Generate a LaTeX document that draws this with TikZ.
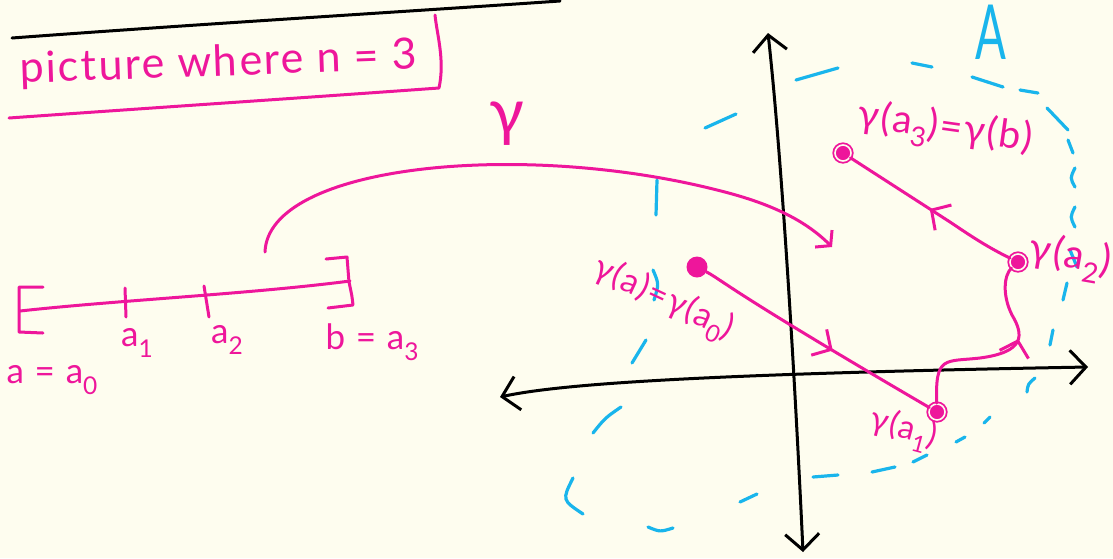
\documentclass[tikz,border=0pt]{standalone}
\usepackage{fontspec}
\setmainfont{Lato}[LetterSpace=5]
\usetikzlibrary{
    arrows.meta,
    decorations.markings
}
\definecolor{paper}{RGB}{254,253,239}
\definecolor{ink}{RGB}{238,22,155}
\definecolor{sky}{RGB}{25,181,236}
\newcommand\subsc[1]{\raisebox{-0.3em}{\scalebox{0.7}{#1}}}
\tikzset{
    % --- Pink pen stroke ---
    pen/.style = {
        draw=ink, line width=3pt,
        line cap=round, line join=round
    },
    % --- Black coordinate axis, barbs at both ends ---
    axis/.style = {
        draw=black, line width=3pt, line cap=round,
        {Straight Barb[length=16pt,width=34pt]}-{Straight Barb[length=16pt,width=34pt]}
    },
    % --- One dash of the region boundary ---
    region dash/.style = {
        draw=sky, line width=3.2pt, line cap=round
    },
    % --- Start point (solid blob) ---
    filled pt/.style = {
        circle, fill=ink,
        minimum size=21pt, inner sep=0pt
    },
    % --- Other points (ringed dot) ---
    ring pt/.style = {
        circle, draw=ink, line width=1.8pt,
        double=paper, double distance=1.6pt, fill=ink,
        minimum size=16pt, inner sep=0pt
    },
    % --- Handwritten label ---
    hand/.style = {
        text=ink, inner sep=0pt
    },
    % --- Direction arrow halfway along a piece ---
    mid arrow/.style = {
        postaction={decorate},
        decoration={markings,
            mark=at position #1 with {\arrow[ink, line width=3pt]{Straight Barb[length=14pt,width=30pt]}}}
    }
}

\begin{document}
\begin{tikzpicture}[x=1pt, y=-1pt]

\fill[paper] (0,0) rectangle (1113,558);
\useasboundingbox (0,0) rectangle (1113,558);

% ---------------------------------------------------------
% Heading
% ---------------------------------------------------------
\draw[line width=3pt, line cap=round] (12,38) .. controls (200,24) and (400,12) .. (560,1);

\node[hand, anchor=base west, rotate=2, font=\fontsize{43}{43}\selectfont] (title) at (20,83) {picture where n = 3};
\draw[pen] (9,118) .. controls (150,108) and (300,98) .. (439,88)
    .. controls (445,60) and (437,35) .. (435,15);

% ---------------------------------------------------------
% The interval [a,b]
% ---------------------------------------------------------
\coordinate (ia) at (20,311);
\coordinate (ib) at (350,281);
\draw[pen] (ia) .. controls (120,300) and (250,294) .. (ib);
\draw[pen] (43,287) -- (19,287) -- (19,332) -- (43,333);
\draw[pen] (326,259) -- (347,257) -- (349,282) .. controls (352,296) .. (353,305) -- (328,308);
\draw[pen] (125,288) -- (126,317);
\draw[pen] (204,286) -- (209,317);

\node[hand, font=\fontsize{35}{35}\selectfont] (la0) at (52,380) {a = a\subsc{0}};
\node[hand, font=\fontsize{35}{35}\selectfont] (la1) at (137,343) {a\subsc{1}};
\node[hand, font=\fontsize{35}{35}\selectfont] (la2) at (227,340) {a\subsc{2}};
\node[hand, font=\fontsize{35}{35}\selectfont] (la3) at (372,342) {b = a\subsc{3}};

% ---------------------------------------------------------
% The plane
% ---------------------------------------------------------
\coordinate (xl) at (500,397);
\coordinate (xr) at (1088,367);
\coordinate (yb) at (803,552);
\coordinate (yt) at (768,33);
\draw[axis] (xl) .. controls (560,384) and (700,374) .. (xr);
\draw[axis] (yb) .. controls (795,380) and (782,160) .. (yt);

% region A, dashed by hand
\foreach \ax/\ay/\bx/\by in {
    657/180/656/215, 646/340/632/363, 740/502/757/494,
    813/477/838/475, 872/472/895/467, 913/462/927/455,
    956/442/965/437, 984/423/990/417, 1050/345/1053/330,
    1063/300/1067/283, 1070/250/1077/267, 1068/140/1073/153,
    1047/108/1068/130, 1020/90/1038/93, 972/77/1003/87,
    912/63/932/67, 796/80/838/68, 705/128/736/114}
    \draw[region dash] (\ax,\ay) -- (\bx,\by);
\draw[region dash] (653,270) .. controls (659,284) .. (654,300);
\draw[region dash] (621,407) .. controls (605,418) .. (593,433);
\draw[region dash] (573,478) .. controls (562,500) .. (583,514);
\draw[region dash] (648,527) .. controls (660,532) .. (673,528);
\draw[region dash] (1035,378) .. controls (1028,384) .. (1027,392);
\draw[region dash] (1075,207) .. controls (1070,217) .. (1075,227);
\draw[region dash] (1075,168) .. controls (1070,178) .. (1075,187);

\node[text=sky, inner sep=0pt, font=\fontsize{76}{76}\selectfont, xscale=0.6] (A) at (991,32) {A};

% ---------------------------------------------------------
% Points gamma(a_i) and the pieces between them
% ---------------------------------------------------------
\node[filled pt] (g0) at (697,267) {};
\node[ring pt] (g1) at (937,412) {};
\node[ring pt] (g2) at (1018,262) {};
\node[ring pt] (g3) at (843,153) {};

\draw[pen, mid arrow=0.57] (g0) .. controls (722,280) and (728,290) .. (g1);
\draw[pen, mid arrow=0.62] (g1) .. controls (935,355) and (945,362) .. (980,358)
    .. controls (1025,352) and (1024,335) .. (1012,315)
    .. controls (1002,295) and (1004,275) .. (g2);
\draw[pen, mid arrow=0.5] (g2) .. controls (985,246) and (965,232) .. (950,222) -- (g3);

\node[hand, rotate=-25, font=\fontsize{34}{34}\selectfont] (l0) at (663,300) {γ(a)=γ(a\subsc{0})};
\node[hand, rotate=-15, font=\fontsize{33}{33}\selectfont] (l1) at (903,430) {γ(a\subsc{1})};
\node[hand, rotate=-10, font=\fontsize{40}{40}\selectfont] (l2) at (1070,258) {γ(a\subsc{2})};
\node[hand, rotate=-8, font=\fontsize{39}{39}\selectfont] (l3) at (945,130) {γ(a\subsc{3})=γ(b)};

% ---------------------------------------------------------
% The map gamma
% ---------------------------------------------------------
\coordinate (gs) at (265,252);
\coordinate (ge) at (832,247);
\draw[pen, -{Straight Barb[length=10pt,width=24pt]}] (gs) .. controls (268,165) and (520,140) .. (717,190)
    .. controls (770,203) and (805,220) .. (ge);
\node[hand, font=\fontsize{64}{64}\selectfont] (gam) at (507,124) {γ};

\end{tikzpicture}
\end{document}
